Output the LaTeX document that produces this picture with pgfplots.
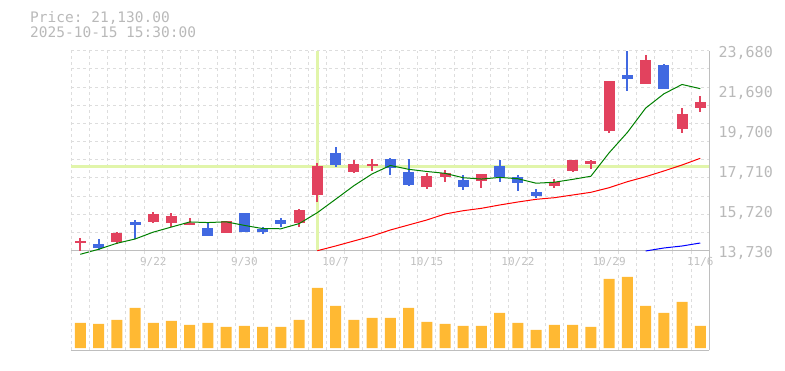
\documentclass[border=0pt]{standalone}
\usepackage{fontspec}
\setmonofont{DejaVu Sans Mono}
\usepackage{pgfplots}
\pgfplotsset{compat=1.18}
\usepackage{pgfplotstable}
\definecolor{cup}{RGB}{226,66,94}
\definecolor{cdn}{RGB}{65,105,225}
\definecolor{cvol}{RGB}{255,185,51}
\definecolor{cgrid}{RGB}{221,221,221}
\definecolor{caxis}{RGB}{190,190,190}
\definecolor{ctxt}{RGB}{185,185,185}
\definecolor{cdate}{RGB}{192,192,192}
\definecolor{ccross}{RGB}{225,245,170}
\definecolor{cma5}{RGB}{0,128,0}

% up (red) candles: x open close low high
\pgfplotstableread{
x o c l h
0 14130 14230 13730 14347
2 14178 14626 14048 14675
4 15158 15571 15108 15655
5 15108 15456 14894 15591
6 15009 15123 14994 15342
8 14626 15208 14626 15208
12 15123 15755 14924 15805
13 16501 17944 16168 18078
15 17660 18043 17611 18242
16 17950 18050 17710 18292
19 16914 17446 16800 17581
20 17411 17581 17163 17745
22 17213 17531 16864 17531
26 16964 17163 16864 17282
27 17710 18242 17660 18242
28 18058 18193 17810 18242
29 19700 22173 19600 22173
31 22038 23217 22038 23466
33 19800 20531 19600 20815
34 20844 21130 20645 21426
}\upT

% down (blue) candles: x open close low high
\pgfplotstableread{
x o c l h
1 14063 13864 13765 14297
3 15173 15024 14312 15257
7 14859 14476 14476 15143
9 15606 14675 14675 15606
10 14810 14675 14561 14894
11 15257 15073 14894 15342
14 18576 17994 17909 18904
17 18292 17859 17496 18342
18 17645 16999 16964 18292
21 17247 16914 16750 17496
23 17944 17411 17163 18242
24 17411 17113 16715 17496
25 16665 16466 16367 16800
30 22471 22287 21690 23680
32 22969 21790 21790 23019
}\dnT

\pgfplotsset{candle/.style={only marks, mark=*, mark size=0pt, mark options={draw opacity=0, fill opacity=0}, forget plot}}

\begin{document}
\begin{tikzpicture}
\path[use as bounding box] (0pt,0pt) rectangle (785pt,370pt);
\node[anchor=base west, inner sep=0pt, font=\ttfamily\fontsize{14.5}{15}\selectfont, text=ctxt] at (30pt,347.3pt) {Price: 21,130.00};
\node[anchor=base west, inner sep=0pt, font=\ttfamily\fontsize{14.5}{15}\selectfont, text=ctxt] at (30pt,332.3pt) {2025-10-15 15:30:00};

\begin{axis}[
  at={(71.2pt,119.3pt)}, anchor=south west,
  scale only axis, width=638.2pt, height=200pt,
  xmin=-0.5, xmax=34.5, ymin=13730, ymax=23680,
  clip=false,
  scaled y ticks=false, scaled x ticks=false,
  axis x line*=bottom, axis y line*=right,
  axis line style={caxis, line width=1.2pt},
  tick style={draw=none},
  xtick={-0.5,0.5,...,34.5}, xticklabels={},
  xmajorgrids=true,
  extra x ticks={4,9,14,19,24,29,34},
  extra x tick labels={9/22,9/30,10/7,10/15,10/22,10/29,11/6},
  extra x tick style={grid=none},
  ytick={13730,14634.55,15539.09,16443.64,17348.18,18252.73,19157.27,20061.82,20966.36,21870.91,22775.45,23680},
  yticklabels={},
  ymajorgrids=true,
  extra y ticks={13730,15720,17710,19700,21690,23680},
  extra y tick labels={{13,730},{15,720},{17,710},{19,700},{21,690},{23,680}},
  extra y tick style={grid=none},
  grid style={cgrid, dash pattern=on 3pt off 3pt, line width=1pt},
  xticklabel style={font=\ttfamily\fontsize{11}{11}\selectfont, text=cdate, anchor=center, inner sep=0pt, yshift=-11pt},
  yticklabel style={font=\ttfamily\fontsize{15}{15}\selectfont, text=ctxt, anchor=west, inner sep=0pt, xshift=9pt, yshift=-2pt},
]
% crosshair
\addplot[ccross, line width=3pt, forget plot] coordinates {(13,13780) (13,23650)};
\addplot[ccross, line width=3pt, forget plot] coordinates {(-0.5,17929) (34.5,17929)};
% wicks
\addplot[candle, error bars/.cd, y dir=plus, y explicit, error mark=none,
  error bar style={line width=2pt, cup}]
  table[x=x, y=l, y error plus expr=\thisrow{h}-\thisrow{l}] {\upT};
\addplot[candle, error bars/.cd, y dir=plus, y explicit, error mark=none,
  error bar style={line width=2pt, cdn}]
  table[x=x, y=l, y error plus expr=\thisrow{h}-\thisrow{l}] {\dnT};
% bodies
\addplot[candle, error bars/.cd, y dir=plus, y explicit, error mark=none,
  error bar style={line width=11pt, cup}]
  table[x=x, y=o, y error plus expr=\thisrow{c}-\thisrow{o}] {\upT};
\addplot[candle, error bars/.cd, y dir=plus, y explicit, error mark=none,
  error bar style={line width=11pt, cdn}]
  table[x=x, y=c, y error plus expr=\thisrow{o}-\thisrow{c}] {\dnT};
% 5-day MA
\addplot[cma5, line width=1pt, mark=none] coordinates {
(0,13551) (1,13800) (2,14098) (3,14312) (4,14653) (5,14908) (6,15160) (7,15130)
(8,15167) (9,14988) (10,14831) (11,14821) (12,15077) (13,15624) (14,16288) (15,16962)
(16,17549) (17,17970) (18,17781) (19,17671) (20,17579) (21,17360) (22,17294) (23,17377)
(24,17310) (25,17087) (26,17137) (27,17279) (28,17435) (29,18600) (30,19612) (31,20822)
(32,21532) (33,22000) (34,21791)};
% 25-day MA
\addplot[red, line width=1pt, mark=none] coordinates {
(13,13730) (14,13964) (15,14213) (16,14461) (17,14760) (18,15009) (19,15257) (20,15556)
(21,15720) (22,15839) (23,16004) (24,16153) (25,16287) (26,16367) (27,16501) (28,16635)
(29,16864) (30,17163) (31,17411) (32,17695) (33,17994) (34,18327)};
% 75-day MA
\addplot[blue, line width=1pt, mark=none] coordinates {
(31,13715) (32,13864) (33,13964) (34,14113)};
\end{axis}

\begin{axis}[
  at={(71.2pt,19.7pt)}, anchor=south west,
  scale only axis, width=638.2pt, height=99.6pt,
  xmin=-0.5, xmax=34.5, ymin=-2.3, ymax=97.3,
  axis x line*=bottom, axis y line*=right,
  axis line style={caxis, line width=1.2pt},
  tick style={draw=none},
  xtick={-0.5,0.5,...,34.5}, xticklabels={},
  ytick=\empty,
  xmajorgrids=true,
  grid style={cgrid, dash pattern=on 3pt off 3pt, line width=1pt},
]
\addplot[ybar, bar width=11pt, fill=cvol, draw=none] coordinates {
(0,25) (1,24) (2,28) (3,40) (4,25) (5,27) (6,23) (7,25) (8,21) (9,22)
(10,21) (11,21) (12,28) (13,60) (14,42) (15,28) (16,30) (17,30) (18,40) (19,26)
(20,24) (21,22) (22,22) (23,35) (24,25) (25,18) (26,23) (27,23) (28,21) (29,69)
(30,71) (31,42) (32,35) (33,46) (34,22)};
\end{axis}
\end{tikzpicture}
\end{document}
